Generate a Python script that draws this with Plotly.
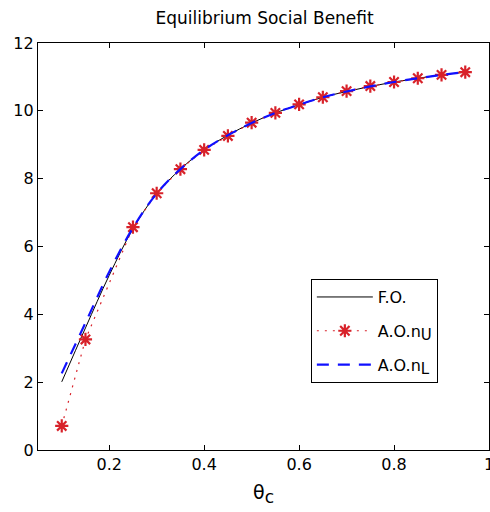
import plotly.graph_objects as go

theta = [0.10, 0.15, 0.20, 0.25, 0.30, 0.35, 0.40, 0.45, 0.50, 0.55,
         0.60, 0.65, 0.70, 0.75, 0.80, 0.85, 0.90, 0.95]
fo = [2.01, 3.60, 5.15, 6.52, 7.56, 8.28, 8.85, 9.28, 9.64, 9.94,
      10.18, 10.40, 10.57, 10.72, 10.85, 10.96, 11.06, 11.14]
ao_nl = [2.26, 3.75, 5.25, 6.55, 7.56, 8.28, 8.85, 9.28, 9.64, 9.94,
         10.18, 10.40, 10.57, 10.72, 10.85, 10.96, 11.06, 11.14]
theta_u = [0.10, 0.15, 0.25, 0.30, 0.35, 0.40, 0.45, 0.50, 0.55,
           0.60, 0.65, 0.70, 0.75, 0.80, 0.85, 0.90, 0.95]
ao_nu = [0.71, 3.26, 6.57, 7.57, 8.28, 8.85, 9.26, 9.65, 9.94,
         10.19, 10.40, 10.58, 10.73, 10.85, 10.96, 11.06, 11.14]

x_ticks = [0.2, 0.4, 0.6, 0.8, 1.0]
x_ticklabels = ["0.2", "0.4", "0.6", "0.8", "1"]
y_ticks = [0, 2, 4, 6, 8, 10, 12]

FONT = "DejaVu Sans, Liberation Sans, Arial, sans-serif"

fig = go.Figure()
fig.add_trace(go.Scatter(
    x=theta, y=fo, mode="lines", name="F.O.",
    line=dict(color="black", width=1, shape="spline"),
    legendgroup="a"))
fig.add_trace(go.Scatter(
    x=theta_u, y=ao_nu, mode="lines+markers",
    name="A.O.n<sub><span style='font-size:15px'>U</span></sub>",
    line=dict(color="#d8222a", width=1.2, dash="2px,6px"),
    marker=dict(symbol="asterisk-open", size=11,
                line=dict(color="#d8222a", width=2.2)),
    legendgroup="b"))
fig.add_trace(go.Scatter(
    x=theta, y=ao_nl, mode="lines",
    name="A.O.n<sub><span style='font-size:15px'>L</span></sub>",
    line=dict(color="#1010ff", width=2.2, dash="12px,9px", shape="spline"),
    legendgroup="c"))

fig.update_layout(
    width=490, height=512,
    margin=dict(l=38, r=1, t=43, b=62, autoexpand=False),
    paper_bgcolor="white", plot_bgcolor="white",
    font=dict(family=FONT, size=16, color="black"),
    title=dict(text="Equilibrium Social Benefit", x=0.54, xanchor="center",
               y=0.965, yanchor="middle", font=dict(size=17)),
    showlegend=True,
    legend=dict(x=0.605, y=0.42, xanchor="left", yanchor="top",
                bordercolor="black", borderwidth=1, bgcolor="white",
                font=dict(size=16), traceorder="grouped", tracegroupgap=10,
                itemwidth=56),
)
fig.update_xaxes(
    range=[0.05, 1.0], tickvals=x_ticks, ticktext=x_ticklabels,
    ticks="inside", ticklen=5, tickcolor="black", mirror="ticks",
    showline=True, linecolor="black", linewidth=1.2, showgrid=False,
    zeroline=False, tickfont=dict(size=16), automargin=False,
    ticklabeloverflow="allow",
    title=dict(text="θ<sub><span style='font-size:17px'>c</span></sub>",
               font=dict(size=19), standoff=12))
fig.update_yaxes(
    range=[0, 12], tickvals=y_ticks,
    ticks="inside", ticklen=5, tickcolor="black", mirror="ticks",
    showline=True, linecolor="black", linewidth=1.2, showgrid=False,
    zeroline=False, tickfont=dict(size=16), automargin=False,
    ticklabeloverflow="allow")

fig.write_html(
    "out.html",
    config={"displayModeBar": False},
    post_script="document.body.style.margin='0';"
                "document.body.style.overflow='hidden';")
